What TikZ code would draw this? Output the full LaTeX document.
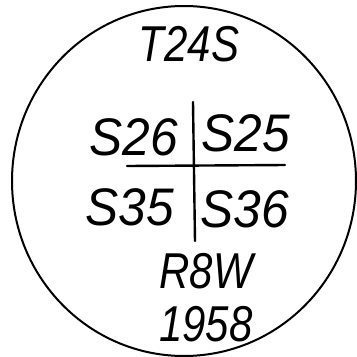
\documentclass[tikz,border=0pt]{standalone}
\usepackage{fontspec}
\setmainfont{Liberation Sans}
\begin{document}
\begin{tikzpicture}[x=1pt,y=-1pt,
  hand/.style={font=\fontsize{46}{46}\selectfont\itshape, inner sep=0pt, anchor=center, xscale=1.08, yscale=1.15},
  small/.style={font=\fontsize{42}{42}\selectfont\itshape, inner sep=0pt, anchor=center, yscale=1.2},
  stroke/.style={line width=2.4pt, line cap=round}]
\useasboundingbox (0,0) rectangle (357,357);
\fill[white] (0,0) rectangle (357,357);
\draw[line width=2pt] (184,181) ellipse [x radius=172, y radius=175];
\node[small] (t) at (189,44) {T24S};
\node[hand] (s26) at (134,137) {S26};
\node[hand] (s25) at (246,133) {S25};
\node[hand] (s35) at (130,207) {S35};
\node[hand] (s36) at (245,209) {S36};
\node[small] (r) at (206,271) {R8W};
\node[small] (y) at (206,324) {1958};
\coordinate (vt) at (193,102);
\coordinate (vb) at (195,241);
\coordinate (hl) at (127,166);
\coordinate (hr) at (285,165);
\draw[stroke] (vt) -- (vb);
\draw[stroke] (hl) -- (hr);
\end{tikzpicture}
\end{document}
